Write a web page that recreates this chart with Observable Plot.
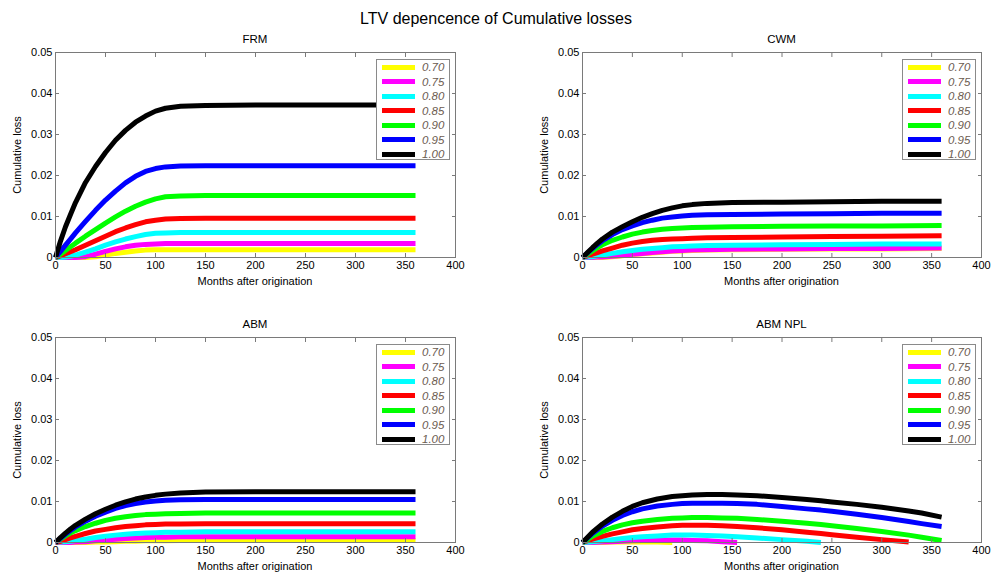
<!DOCTYPE html>
<html><head><meta charset="utf-8">
<script src="https://cdn.jsdelivr.net/npm/d3@7"></script>
<script src="https://cdn.jsdelivr.net/npm/@observablehq/plot@0.6"></script>
<style>
body{margin:0;background:#fff;font-family:"Liberation Sans",Arial,sans-serif;}
#root{position:relative;width:992px;height:576px;overflow:hidden;background:#fff;}
.abs{position:absolute;white-space:nowrap;color:#000;}
</style></head><body><div id="root"></div>
<script>
// ---------- data ----------
const mainTitle = "LTV depencence of Cumulative losses";
const panelTitles = ["FRM", "CWM", "ABM", "ABM NPL"];
const xLabel = "Months after origination";
const yLabel = "Cumulative loss";
const ltvLabels = ["0.70", "0.75", "0.80", "0.85", "0.90", "0.95", "1.00"];
const lineColors = ["#ffff00", "#ff00ff", "#00ffff", "#ff0000", "#00ff00", "#0000ff", "#000000"];
const xTicks = [0, 50, 100, 150, 200, 250, 300, 350, 400];
const xTickLabels = ["0", "50", "100", "150", "200", "250", "300", "350", "400"];
const yTicks = [0, 0.01, 0.02, 0.03, 0.04, 0.05];
const yTickLabels = ["0", "0.01", "0.02", "0.03", "0.04", "0.05"];

const months = [0, 5, 10, 15, 20, 30, 40, 50, 60, 70, 80, 90, 100, 110, 125, 150, 200, 250, 300, 360];

const frmLoss = [
  [0, 0, 0, 0, 0, 0, 0.0002, 0.0006, 0.0010, 0.0013, 0.0016, 0.0018, 0.0019, 0.0019, 0.0019, 0.0019, 0.0019, 0.0019, 0.0019, 0.0019],
  [0, 0, 0, 0, 0, 0.0002, 0.0008, 0.0015, 0.0021, 0.0026, 0.0030, 0.0032, 0.0033, 0.0034, 0.0034, 0.0034, 0.0034, 0.0034, 0.0034, 0.0034],
  [0, 0, 0.0001, 0.0003, 0.0006, 0.0013, 0.0021, 0.0030, 0.0038, 0.0045, 0.0051, 0.0056, 0.0059, 0.0060, 0.0061, 0.0061, 0.0061, 0.0061, 0.0061, 0.0061],
  [0, 0.0004, 0.0009, 0.0014, 0.0019, 0.0030, 0.0041, 0.0052, 0.0063, 0.0072, 0.0080, 0.0087, 0.0091, 0.0094, 0.0095, 0.0096, 0.0096, 0.0096, 0.0096, 0.0096],
  [0, 0.0008, 0.0017, 0.0026, 0.0035, 0.0052, 0.0068, 0.0084, 0.0099, 0.0113, 0.0125, 0.0135, 0.0143, 0.0148, 0.0150, 0.0151, 0.0151, 0.0151, 0.0151, 0.0151],
  [0, 0.0015, 0.0030, 0.0045, 0.0060, 0.0088, 0.0115, 0.0140, 0.0162, 0.0182, 0.0198, 0.0210, 0.0217, 0.0221, 0.0223, 0.0224, 0.0224, 0.0224, 0.0224, 0.0224],
  [0, 0.0040, 0.0075, 0.0105, 0.0134, 0.0183, 0.0222, 0.0256, 0.0286, 0.0310, 0.0330, 0.0345, 0.0357, 0.0364, 0.0369, 0.0371, 0.0372, 0.0372, 0.0372, 0.0372]
];

const cwmLoss = [
  [0, 0, 0, 0, 0, 0.0002, 0.0004, 0.0007, 0.0009, 0.0011, 0.0013, 0.0015, 0.0016, 0.0017, 0.0018, 0.0019, 0.0020, 0.0021, 0.0021, 0.0022],
  [0, 0, 0, 0.0001, 0.0001, 0.0003, 0.0005, 0.0008, 0.0010, 0.0012, 0.0014, 0.0016, 0.0017, 0.0018, 0.0019, 0.0020, 0.0021, 0.0022, 0.0022, 0.0023],
  [0, 0.0001, 0.0002, 0.0004, 0.0006, 0.0010, 0.0014, 0.0017, 0.0020, 0.0022, 0.0024, 0.0026, 0.0027, 0.0028, 0.0029, 0.0030, 0.0031, 0.0032, 0.0033, 0.0033],
  [0, 0.0004, 0.0008, 0.0012, 0.0016, 0.0023, 0.0030, 0.0035, 0.0039, 0.0042, 0.0044, 0.0045, 0.0046, 0.0047, 0.0048, 0.0049, 0.0050, 0.0051, 0.0052, 0.0053],
  [0, 0.0008, 0.0016, 0.0024, 0.0031, 0.0042, 0.0050, 0.0057, 0.0062, 0.0066, 0.0069, 0.0071, 0.0072, 0.0073, 0.0074, 0.0075, 0.0076, 0.0077, 0.0077, 0.0078],
  [0, 0.0011, 0.0022, 0.0032, 0.0041, 0.0056, 0.0068, 0.0077, 0.0085, 0.0091, 0.0096, 0.0099, 0.0101, 0.0103, 0.0104, 0.0105, 0.0106, 0.0107, 0.0108, 0.0108],
  [0, 0.0012, 0.0024, 0.0035, 0.0045, 0.0062, 0.0075, 0.0087, 0.0098, 0.0107, 0.0115, 0.0121, 0.0126, 0.0129, 0.0132, 0.0134, 0.0135, 0.0136, 0.0137, 0.0137]
];

const abmLoss = [
  [0, 0, 0, 0, 0, 0, 0.0001, 0.0001, 0.0002, 0.0003, 0.0003, 0.0004, 0.0004, 0.0004, 0.0005, 0.0005, 0.0005, 0.0005, 0.0005, 0.0005],
  [0, 0, 0, 0, 0.0001, 0.0002, 0.0004, 0.0006, 0.0008, 0.0010, 0.0011, 0.0012, 0.0013, 0.0013, 0.0014, 0.0014, 0.0014, 0.0014, 0.0014, 0.0014],
  [0, 0.0001, 0.0002, 0.0003, 0.0005, 0.0008, 0.0012, 0.0015, 0.0018, 0.0020, 0.0022, 0.0023, 0.0024, 0.0025, 0.0025, 0.0026, 0.0026, 0.0026, 0.0026, 0.0026],
  [0, 0.0003, 0.0007, 0.0011, 0.0015, 0.0022, 0.0028, 0.0032, 0.0036, 0.0039, 0.0041, 0.0043, 0.0044, 0.0045, 0.0045, 0.0046, 0.0046, 0.0046, 0.0046, 0.0046],
  [0, 0.0008, 0.0016, 0.0023, 0.0029, 0.0039, 0.0047, 0.0054, 0.0059, 0.0063, 0.0066, 0.0068, 0.0069, 0.0070, 0.0071, 0.0072, 0.0072, 0.0072, 0.0072, 0.0072],
  [0, 0.0010, 0.0020, 0.0029, 0.0038, 0.0052, 0.0064, 0.0074, 0.0083, 0.0090, 0.0095, 0.0099, 0.0101, 0.0103, 0.0104, 0.0105, 0.0105, 0.0105, 0.0105, 0.0105],
  [0, 0.0012, 0.0023, 0.0033, 0.0042, 0.0057, 0.0070, 0.0081, 0.0091, 0.0099, 0.0106, 0.0111, 0.0115, 0.0118, 0.0121, 0.0123, 0.0124, 0.0124, 0.0124, 0.0124]
];

const nplMonths = [0, 10, 20, 30, 40, 50, 60, 75, 90, 100, 110, 125, 140, 155, 175, 200, 225, 239, 250, 275, 300, 327, 340, 360];

const nplLoss = [
  [0, 0, 0, 0.0001, 0.0001, 0.0001, 0.0001, 0.0001, 0, null, null, null, null, null, null, null, null, null, null, null, null, null, null, null],
  [0, 0, 0.0001, 0.0002, 0.0003, 0.0004, 0.0005, 0.0006, 0.0006, 0.0006, 0.0005, 0.0004, 0.0002, 0, null, null, null, null, null, null, null, null, null, null],
  [0, 0.0002, 0.0004, 0.0007, 0.0010, 0.0012, 0.0014, 0.0016, 0.0018, 0.0018, 0.0018, 0.0017, 0.0016, 0.0014, 0.0011, 0.0007, 0.0003, 0, null, null, null, null, null, null],
  [0, 0.0008, 0.0015, 0.0021, 0.0026, 0.0031, 0.0034, 0.0038, 0.0041, 0.0042, 0.0042, 0.0042, 0.0041, 0.0039, 0.0036, 0.0031, 0.0025, 0.0022, 0.0019, 0.0013, 0.0007, 0.0001, null, null],
  [0, 0.0015, 0.0027, 0.0036, 0.0043, 0.0048, 0.0052, 0.0056, 0.0059, 0.0060, 0.0061, 0.0061, 0.0060, 0.0059, 0.0056, 0.0052, 0.0047, 0.0044, 0.0041, 0.0034, 0.0027, 0.0018, 0.0013, 0.0005],
  [0, 0.0022, 0.0040, 0.0054, 0.0066, 0.0075, 0.0082, 0.0089, 0.0093, 0.0095, 0.0096, 0.0096, 0.0096, 0.0095, 0.0093, 0.0088, 0.0082, 0.0079, 0.0076, 0.0069, 0.0061, 0.0051, 0.0046, 0.0039],
  [0, 0.0025, 0.0045, 0.0062, 0.0076, 0.0088, 0.0097, 0.0106, 0.0112, 0.0114, 0.0116, 0.0117, 0.0117, 0.0116, 0.0114, 0.0110, 0.0105, 0.0102, 0.0099, 0.0093, 0.0086, 0.0077, 0.0072, 0.0062]
];

// ---------- layout ----------
const panels = [
  {title: panelTitles[0], mx: months, loss: frmLoss, fx0: 55, fx1: 455, fy0: 52, fy1: 257},
  {title: panelTitles[1], mx: months, loss: cwmLoss, fx0: 582, fx1: 981, fy0: 52, fy1: 257},
  {title: panelTitles[2], mx: months, loss: abmLoss, fx0: 55, fx1: 455, fy0: 337, fy1: 542},
  {title: panelTitles[3], mx: nplMonths, loss: nplLoss, fx0: 582, fx1: 981, fy0: 337, fy1: 542}
];

const root = document.getElementById("root");
function addDiv(text, css) {
  const d = document.createElement("div");
  d.className = "abs";
  d.textContent = text;
  Object.assign(d.style, css);
  root.appendChild(d);
  return d;
}

addDiv(mainTitle, {left: "0px", width: "992px", top: "10px", textAlign: "center", fontSize: "16px", lineHeight: "18px"});

const ML = 50, MR = 10, MT = 10, MB = 20;
const axisGray = "#7a7a7a";
const blank = () => "";

for (const p of panels) {
  const rows = [];
  p.loss.forEach((vals, k) => {
    vals.forEach((v, i) => rows.push({month: p.mx[i], loss: v, ltv: ltvLabels[k]}));
  });
  const w = p.fx1 - p.fx0 + ML + MR;
  const h = p.fy1 - p.fy0 + MT + MB;
  const chart = Plot.plot({
    width: w, height: h,
    marginLeft: ML, marginRight: MR, marginTop: MT, marginBottom: MB,
    x: {domain: [0, 400]},
    y: {domain: [0, 0.05]},
    color: {domain: ltvLabels, range: lineColors},
    style: {fontFamily: "'Liberation Sans', Arial, sans-serif", fontSize: "11px", color: "#000", background: "transparent", overflow: "visible"},
    marks: [
      Plot.line(rows, {x: "month", y: "loss", z: "ltv", stroke: "ltv", strokeWidth: 5, strokeLinecap: "butt", strokeLinejoin: "round"}),
      Plot.frame({stroke: axisGray, strokeWidth: 1}),
      Plot.axisX({anchor: "bottom", ticks: xTicks, tickSize: -4, tickFormat: blank, label: null, stroke: axisGray}),
      Plot.axisX({anchor: "top", ticks: xTicks, tickSize: -4, tickFormat: blank, label: null, stroke: axisGray}),
      Plot.axisY({anchor: "left", ticks: yTicks, tickSize: -4, tickFormat: blank, label: null, stroke: axisGray}),
      Plot.axisY({anchor: "right", ticks: yTicks, tickSize: -4, tickFormat: blank, label: null, stroke: axisGray}),
      Plot.axisX({anchor: "bottom", ticks: xTicks, tickSize: 0, tickPadding: 4, label: null, fill: "#000",
        tickFormat: d => xTickLabels[xTicks.indexOf(d)]}),
      Plot.axisY({anchor: "left", ticks: yTicks, tickSize: 0, tickPadding: 3, label: null, fill: "#000",
        tickFormat: d => yTickLabels[yTicks.findIndex(t => Math.abs(t - d) < 1e-9)]})
    ]
  });
  chart.style.position = "absolute";
  chart.style.left = (p.fx0 - ML) + "px";
  chart.style.top = (p.fy0 - MT) + "px";
  root.appendChild(chart);

  const cx = (p.fx0 + p.fx1) / 2;
  const cy = (p.fy0 + p.fy1) / 2;
  addDiv(p.title, {left: (cx - 100) + "px", width: "200px", top: (p.fy0 - 20) + "px", textAlign: "center", fontSize: "11.5px", lineHeight: "14px"});
  addDiv(xLabel, {left: (cx - 150) + "px", width: "300px", top: (p.fy1 + 17) + "px", textAlign: "center", fontSize: "11px", lineHeight: "14px"});
  addDiv(yLabel, {left: (p.fx0 - 38 - 100) + "px", width: "200px", top: (cy - 7) + "px", textAlign: "center", fontSize: "11px", lineHeight: "14px", transform: "rotate(-90deg)", transformOrigin: "50% 50%"});

  // legend box
  const lg = document.createElement("div");
  lg.className = "abs";
  Object.assign(lg.style, {left: (p.fx1 - 5 - 74) + "px", top: (p.fy0 + 7) + "px", width: "72px", height: "99px", border: "1px solid #8a8a8a", background: "#fff"});
  ltvLabels.forEach((lab, k) => {
    const yc = 7 + k * 14.5;
    const sw = document.createElement("div");
    Object.assign(sw.style, {position: "absolute", left: "5px", top: (yc - 2.5) + "px", width: "33px", height: "5px", background: lineColors[k]});
    lg.appendChild(sw);
    const t = document.createElement("div");
    t.textContent = lab;
    Object.assign(t.style, {position: "absolute", left: "45px", top: (yc - 7) + "px", lineHeight: "14px", fontSize: "11.5px", fontStyle: "italic", color: "#6b5b50"});
    lg.appendChild(t);
  });
  root.appendChild(lg);
}
</script></body></html>
